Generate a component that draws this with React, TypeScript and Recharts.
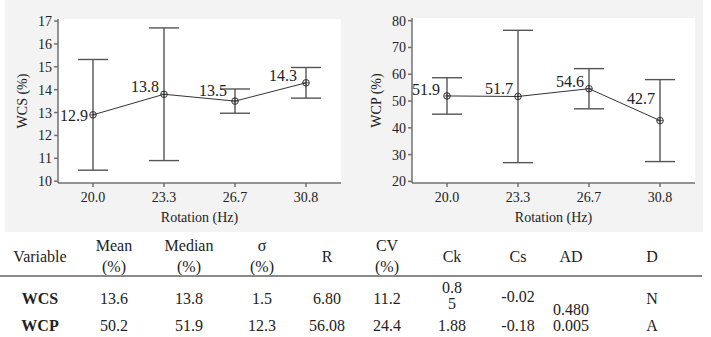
import React from "react";
import {
  LineChart,
  Line,
  XAxis,
  YAxis,
  CartesianGrid,
  ErrorBar,
  LabelList,
} from "recharts";

const SERIF = '"Liberation Serif", "Times New Roman", serif';

// rotation speeds (Hz)
const ROTATION = ["20.0", "23.3", "26.7", "30.8"];

// WCS: mean and half-width of the interval
const WCS_MEAN = [12.9, 13.8, 13.5, 14.3];
const WCS_ERR = [2.42, 2.9, 0.53, 0.67];
const WCS_TICKS = [10, 11, 12, 13, 14, 15, 16, 17];

// WCP: mean and half-width of the interval
const WCP_MEAN = [51.9, 51.7, 54.6, 42.7];
const WCP_ERR = [6.8, 24.7, 7.5, 15.3];
const WCP_TICKS = [20, 30, 40, 50, 60, 70, 80];

// where each value label sits relative to its point
const WCS_NUDGE = [
  [-5, 1],
  [-5, -8],
  [-8, -11],
  [-9, -7],
];
const WCP_NUDGE = [
  [-7, -6],
  [-5, -8],
  [-5, -7],
  [-5, -22],
];

// summary table
const TABLE_HEAD = ["Variable", "Mean|(%)", "Median|(%)", "σ|(%)", "R", "CV|(%)", "Ck", "Cs", "AD", "D"];
const TABLE_COL_X = [40, 114, 189, 262, 327, 387, 452, 518, 571, 652];
const WCS_ROW = ["WCS", "13.6", "13.8", "1.5", "6.80", "11.2", "0.85", "-0.02", "0.480", "N"];
const WCP_ROW = ["WCP", "50.2", "51.9", "12.3", "56.08", "24.4", "1.88", "-0.18", "0.005", "A"];

const AXIS_COLOR = "#707070";
const tickStyle = { fontSize: 14, fill: "#222", fontFamily: SERIF };

const Dot = (props: any) => {
  const { cx, cy } = props;
  if (cx == null || cy == null) return null;
  return (
    <g>
      <circle cx={cx} cy={cy} r={3.3} fill="none" stroke="#333" strokeWidth={1} />
      <line x1={cx - 3.3} x2={cx + 3.3} y1={cy} y2={cy} stroke="#333" strokeWidth={0.8} />
      <line x1={cx} x2={cx} y1={cy - 3.3} y2={cy + 3.3} stroke="#333" strokeWidth={0.8} />
    </g>
  );
};

const makeLabel = (nudge: number[][]) => (props: any) => {
  const { x, y, value, index } = props;
  const [dx, dy] = nudge[index] || [0, 0];
  return (
    <text
      x={x + dx}
      y={y + dy}
      textAnchor="end"
      dominantBaseline="central"
      fontSize={16}
      fontFamily={SERIF}
      style={{ fontFamily: SERIF }}
      fill="#222"
    >
      {Number(value).toFixed(1)}
    </text>
  );
};

interface PanelProps {
  means: number[];
  errs: number[];
  ticks: number[];
  domain: [number, number];
  yLabel: string;
  nudge: number[][];
  top: number;
}

function Panel({ means, errs, ticks, domain, yLabel, nudge, top }: PanelProps) {
  const data = ROTATION.map((r, i) => ({ rot: r, mean: means[i], err: errs[i] }));
  return (
    <LineChart
      width={360}
      height={232}
      data={data}
      margin={{ top, right: 19, left: 18, bottom: 9 }}
      style={{ fontFamily: SERIF }}
    >
      <CartesianGrid fill="#fff" horizontal={false} vertical={false} />
      <XAxis
        dataKey="rot"
        height={40}
        padding={{ left: 35, right: 35 }}
        tick={tickStyle}
        tickSize={4}
        tickMargin={5}
        stroke={AXIS_COLOR}
        strokeWidth={1.5}
        label={{
          value: "Rotation (Hz)",
          position: "insideBottom",
          offset: 1,
          style: { fontSize: 14, fill: "#222", fontFamily: SERIF },
        }}
      />
      <XAxis
        xAxisId="top"
        dataKey="rot"
        orientation="top"
        height={0}
        tick={false}
        tickLine={false}
        stroke={AXIS_COLOR}
        strokeWidth={1.5}
      />
      <YAxis
        width={40}
        domain={domain}
        ticks={ticks}
        allowDataOverflow
        interval={0}
        tick={tickStyle}
        tickSize={4}
        tickMargin={2}
        stroke={AXIS_COLOR}
        strokeWidth={1.5}
        label={{
          value: yLabel,
          angle: -90,
          position: "insideLeft",
          offset: 4,
          style: { fontSize: 14, fill: "#222", fontFamily: SERIF, textAnchor: "middle" },
        }}
      />
      <YAxis
        yAxisId="right"
        orientation="right"
        width={0}
        tick={false}
        tickLine={false}
        stroke={AXIS_COLOR}
        strokeWidth={1.5}
      />
      <Line
        dataKey="mean"
        type="linear"
        stroke="#333"
        strokeWidth={1}
        dot={<Dot />}
        activeDot={false}
        isAnimationActive={false}
      >
        <ErrorBar dataKey="err" width={15} stroke="#555" strokeWidth={1.4} direction="y" />
        <LabelList dataKey="mean" content={makeLabel(nudge)} />
      </Line>
    </LineChart>
  );
}

const cell = (x: number, y: number): React.CSSProperties => ({
  position: "absolute",
  left: x,
  top: y,
  transform: "translate(-50%, -50%)",
  whiteSpace: "nowrap",
  textAlign: "center",
  lineHeight: "16px",
});

export default function App() {
  return (
    <div
      style={{
        position: "absolute",
        left: 0,
        top: 0,
        width: 711,
        height: 337,
        background: "#fff",
        fontFamily: SERIF,
        color: "#222",
        overflow: "hidden",
      }}
    >
      <div style={{ position: "absolute", left: 5, top: 0, width: 698, height: 232, background: "#f3f3f3" }} />
      <div style={{ position: "absolute", left: 0, top: 0 }}>
        <Panel
          means={WCS_MEAN}
          errs={WCS_ERR}
          ticks={WCS_TICKS}
          domain={[9.92, 17.09]}
          yLabel="WCS (%)"
          nudge={WCS_NUDGE}
          top={19}
        />
      </div>
      <div style={{ position: "absolute", left: 354, top: 0 }}>
        <Panel
          means={WCP_MEAN}
          errs={WCP_ERR}
          ticks={WCP_TICKS}
          domain={[19.4, 81]}
          yLabel="WCP (%)"
          nudge={WCP_NUDGE}
          top={18}
        />
      </div>

      {/* summary statistics */}
      <div style={{ position: "absolute", left: 0, top: 0, width: 711, height: 337, fontSize: 16 }}>
        {TABLE_HEAD.map((h, i) => {
          const lines = h.split("|");
          if (lines.length === 1) {
            return (
              <div key={h} style={cell(TABLE_COL_X[i], 257)}>
                {h}
              </div>
            );
          }
          return (
            <React.Fragment key={h}>
              <div style={cell(TABLE_COL_X[i], 246)}>{lines[0]}</div>
              <div style={cell(TABLE_COL_X[i], 267)}>{lines[1]}</div>
            </React.Fragment>
          );
        })}
        <div style={{ position: "absolute", left: 0, top: 275, width: 702, height: 2, background: "#8a8a8a" }} />
        {WCS_ROW.map((v, i) => {
          if (i === 6) {
            return (
              <div
                key={i}
                style={{
                  ...cell(TABLE_COL_X[i], 296),
                  whiteSpace: "normal",
                  wordBreak: "break-all",
                  width: 24,
                }}
              >
                {v}
              </div>
            );
          }
          const y = i === 8 ? 310 : i === 7 ? 297 : 299;
          return (
            <div key={i} style={{ ...cell(TABLE_COL_X[i], y), fontWeight: i === 0 ? "bold" : "normal" }}>
              {v}
            </div>
          );
        })}
        {WCP_ROW.map((v, i) => (
          <div key={i} style={{ ...cell(TABLE_COL_X[i], 326), fontWeight: i === 0 ? "bold" : "normal" }}>
            {v}
          </div>
        ))}
      </div>
    </div>
  );
}
